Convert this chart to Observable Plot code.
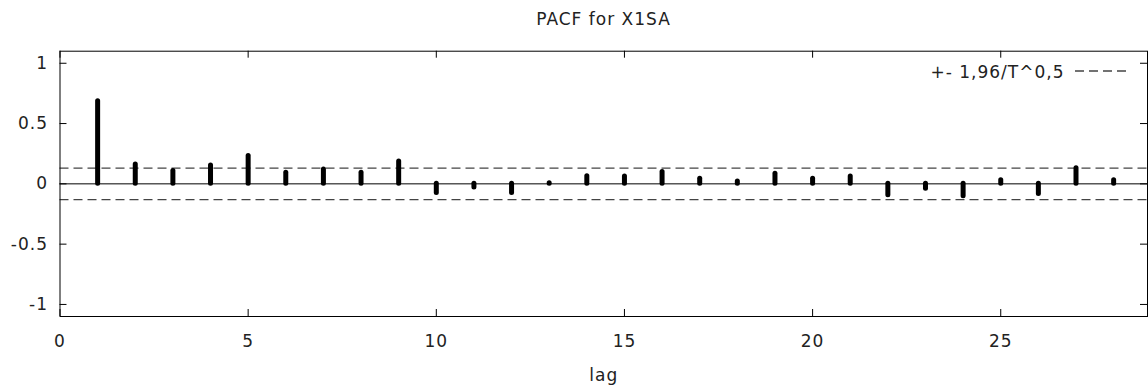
<!DOCTYPE html>
<html><head><meta charset="utf-8">
<script src="https://cdn.jsdelivr.net/npm/d3@7"></script>
<script src="https://cdn.jsdelivr.net/npm/@observablehq/plot@0.6"></script>
<style>
body{margin:0;background:#fff;font-family:"DejaVu Sans",sans-serif;}
#wrap{position:relative;width:1148px;height:390px;}
#title{box-sizing:border-box;width:1148px;padding-left:60px;padding-right:1px;height:38px;line-height:38px;text-align:center;font-size:17px;letter-spacing:1px;color:#222;}
</style></head><body><div id="wrap"><div id="title"></div></div>
<script>
const title = "PACF for X1SA";
const lags = [1,2,3,4,5,6,7,8,9,10,11,12,13,14,15,16,17,18,19,20,21,22,23,24,25,26,27,28];
const pacf = [0.685,0.16,0.107,0.153,0.23,0.093,0.12,0.093,0.185,-0.076,-0.03,-0.075,0.005,0.062,0.06,0.098,0.042,0.02,0.083,0.042,0.06,-0.095,-0.04,-0.103,0.03,-0.084,0.13,0.03];
const band = 0.13;
const xTicks = [0,5,10,15,20,25];
const yTicks = [-1,-0.5,0,0.5,1];
const xLabel = "lag";
const legendLabel = "+- 1,96/T^0,5";
const xDomain = [0,28.9], yDomain = [-1.1,1.1];

document.getElementById("title").textContent = title;
const data = lags.map((l,i)=>({lag:l, value:pacf[i]}));
const tx = 0.186, ty = 0.058;
const chart = Plot.plot({
  width:1148, height:352, marginLeft:59.5, marginRight:1, marginTop:12.7, marginBottom:74,
  style:{fontFamily:"DejaVu Sans", fontSize:"17px", color:"#222", letterSpacing:"1px", background:"#fff"},
  x:{domain:xDomain}, y:{domain:yDomain},
  marks:[
    Plot.ruleY([0], {stroke:"#000", strokeWidth:1}),
    Plot.ruleY([band,-band], {stroke:"#444", strokeWidth:1.3, strokeDasharray:"9,5"}),
    Plot.ruleX(data, {x:"lag", y1:0, y2:"value", stroke:"#000", strokeWidth:5, strokeLinecap:"round"}),
    Plot.ruleY(yTicks, {y:d=>d, x1:xDomain[0], x2:xDomain[0]+tx, stroke:"#000"}),
    Plot.ruleY(yTicks, {y:d=>d, x1:xDomain[1]-tx, x2:xDomain[1], stroke:"#000"}),
    Plot.ruleX(xTicks, {x:d=>d, y1:yDomain[0], y2:yDomain[0]+ty, stroke:"#000"}),
    Plot.ruleX(xTicks, {x:d=>d, y1:yDomain[1]-ty, y2:yDomain[1], stroke:"#000"}),
    Plot.frame({stroke:"#000"}),
    Plot.axisY(yTicks, {tickSize:0, tickPadding:12, tickFormat:d=>String(d), label:null}),
    Plot.axisX(xTicks, {tickSize:0, tickPadding:18, tickFormat:d=>String(d), label:null}),
    Plot.text([xLabel], {frameAnchor:"bottom", dy:59, lineAnchor:"middle"}),
    Plot.text([legendLabel], {frameAnchor:"top-right", dx:-83, dy:21.3, textAnchor:"end", lineAnchor:"middle"})
  ]
});
document.getElementById("wrap").appendChild(chart);
d3.select(chart).append("line")
  .attr("x1",1075).attr("x2",1130).attr("y1",33).attr("y2",33)
  .attr("stroke","#444").attr("stroke-width",1.3).attr("stroke-dasharray","9,5");
</script></body></html>
